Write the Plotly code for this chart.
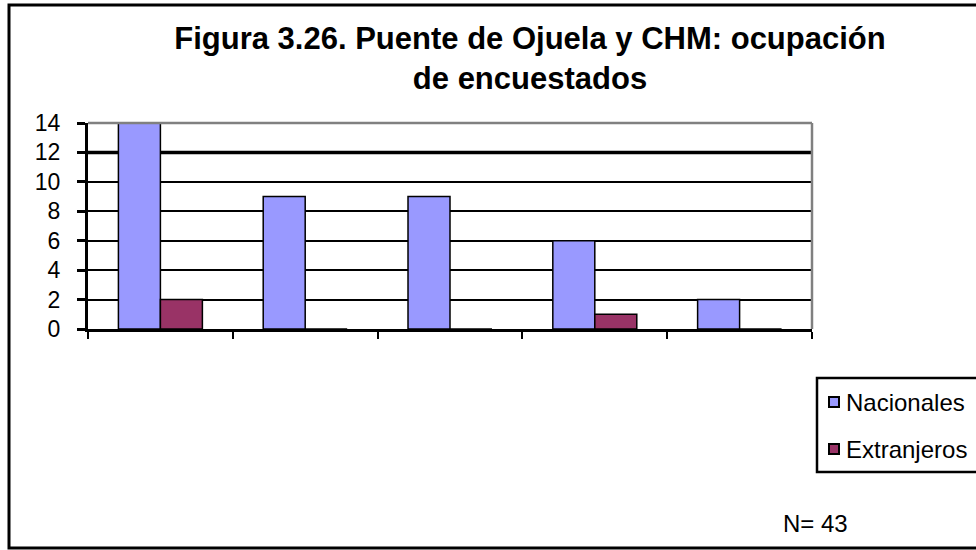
import plotly.graph_objects as go

categories = ["Cat 1", "Cat 2", "Cat 3", "Cat 4", "Cat 5"]
nacionales = [14, 9, 9, 6, 2]
extranjeros = [2, 0, 0, 1, 0]
y_ticks = [0, 2, 4, 6, 8, 10, 12, 14]
series_names = ["Nacionales", "Extranjeros"]
series_colors = ["#9999FF", "#993366"]
title_text = "Figura 3.26. Puente de Ojuela y CHM: ocupación<br>de encuestados"
note_text = "N= 43"

L, R, T, B = 88, 812, 123, 329
W, H = 976, 550
pw, ph = R - L, B - T

def px(x):
    return (x - L) / pw

def py(y):
    return (B - y) / ph

fig = go.Figure()
for name, vals, col in zip(series_names, [nacionales, extranjeros], series_colors):
    fig.add_trace(go.Bar(x=categories, y=vals, name=name, showlegend=False,
                         marker=dict(color=col, line=dict(color="black", width=1.5))))

shapes = [
    # outer border
    dict(type="rect", xref="paper", yref="paper", x0=px(9), x1=px(995), y0=py(548), y1=py(5),
         line=dict(color="black", width=3), layer="below"),
    # plot area top/right border (gray)
    dict(type="line", xref="paper", yref="paper", x0=0, x1=1, y0=1, y1=1,
         line=dict(color="#808080", width=2.5)),
    dict(type="line", xref="paper", yref="paper", x0=1, x1=1, y0=0, y1=1,
         line=dict(color="#808080", width=2.5)),
    # thicker gridline at 12
    dict(type="line", xref="paper", yref="y", x0=0, x1=1, y0=12, y1=12,
         line=dict(color="black", width=3.5), layer="below"),
    # legend box
    dict(type="rect", xref="paper", yref="paper", x0=px(817), x1=px(1000), y0=py(472), y1=py(378),
         line=dict(color="black", width=2.5), fillcolor="white"),
]
annotations = []
legend_rows = [402, 449]
for name, col, yc in zip(series_names, series_colors, legend_rows):
    shapes.append(dict(type="rect", xref="paper", yref="paper", x0=px(829), x1=px(839),
                       y0=py(yc + 5), y1=py(yc - 5), fillcolor=col,
                       line=dict(color="black", width=2)))
    annotations.append(dict(text=name, xref="paper", yref="paper", x=px(844), y=py(yc),
                            xanchor="left", yanchor="middle", showarrow=False,
                            font=dict(size=24)))
annotations.append(dict(text=note_text, xref="paper", yref="paper", x=px(781), y=py(523),
                        xanchor="left", yanchor="middle", showarrow=False,
                        font=dict(size=24)))

fig.update_layout(
    width=W, height=H,
    margin=dict(l=L, r=W - R, t=T, b=H - B),
    paper_bgcolor="white", plot_bgcolor="white",
    barmode="group", bargap=0.42, bargroupgap=0,
    font=dict(family="Liberation Sans, Arial, sans-serif", color="black"),
    title=dict(text="<b>" + title_text + "</b>", x=530 / W, xanchor="center",
               y=1 - 49 / H, yanchor="middle",
               font=dict(size=31, family="Liberation Sans, Arial, sans-serif")),
    showlegend=False,
    shapes=shapes,
    annotations=annotations,
)
fig.update_xaxes(type="category", showticklabels=False, tickson="boundaries",
                 ticks="outside", ticklen=7, tickwidth=2, tickcolor="black",
                 showline=True, linecolor="black", linewidth=3, showgrid=False)
fig.update_yaxes(range=[0, 14], tickvals=y_ticks, ticks="outside", ticklen=8,
                 tickwidth=2.5, tickcolor="black", showline=True, linecolor="black",
                 linewidth=3, gridcolor="black", gridwidth=2, zeroline=False,
                 tickfont=dict(size=23), ticklabelstandoff=12)

fig.write_html("out.html", config={"displayModeBar": False},
               post_script="document.body.style.margin='0';")
